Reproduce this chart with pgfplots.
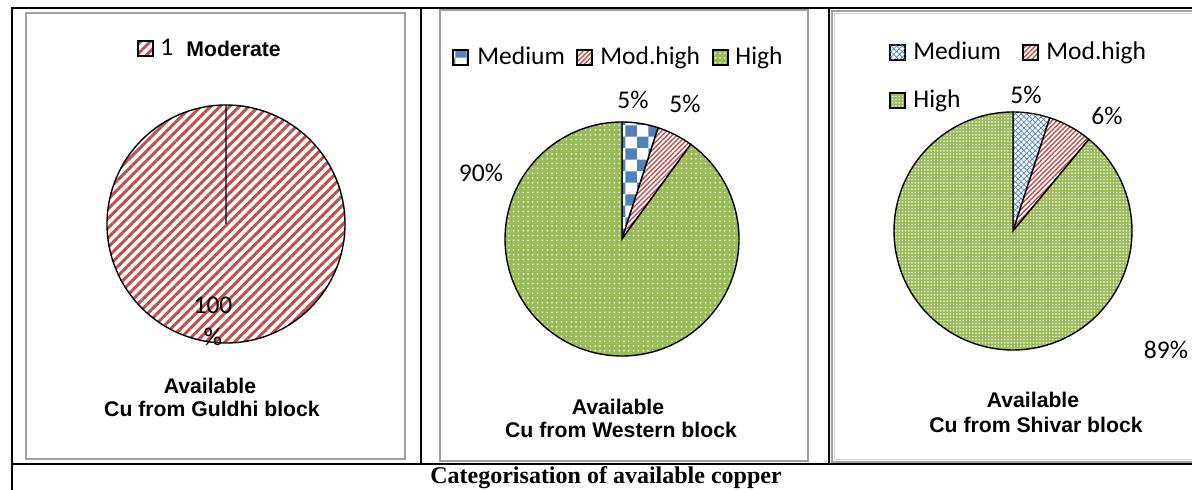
\documentclass[border=0pt]{standalone}
\usepackage{pgfplots}
\pgfplotsset{compat=1.18}
\usepackage{pgfplotstable}
\usepackage{fontspec}
\usetikzlibrary{patterns,patterns.meta}
\setmainfont{Liberation Sans}
\newfontfamily\calibri{Carlito}
\newfontfamily\timesfont{Liberation Serif}

\definecolor{cuRed}{HTML}{C0504D}
\definecolor{cuBlue}{HTML}{4F81BD}
\definecolor{cuGreen}{HTML}{9BBB59}
\definecolor{frameGray}{HTML}{A0A0A0}

% share of each copper category per block (percent)
\pgfplotstableread{
category share
Moderate 100
}\guldhi
\pgfplotstableread{
category share
Medium 5
Mod.high 5
High 90
}\western
\pgfplotstableread{
category share
Medium 5
Mod.high 6
High 89
}\shivar

\tikzset{
  slice/.style={draw=black, line width=0.7pt},
  moderate/.style={preaction={fill=white}, pattern={Lines[angle=45,distance=3.4pt,line width=1.5pt]}, pattern color=cuRed},
  modhigh/.style={preaction={fill=white}, pattern={Lines[angle=45,distance=1.7pt,line width=0.7pt]}, pattern color=cuRed},
  mediumW/.style={preaction={fill=white}, pattern=checkerboard, pattern color=cuBlue},
  highW/.style={preaction={fill=cuGreen}, pattern={Dots[distance=2.4pt,radius=0.42pt]}, pattern color=white},
  mediumS/.style={preaction={fill=white}, pattern={Lines[angle=45,distance=2pt,line width=0.35pt]}, pattern color=cuBlue,
    postaction={pattern={Lines[angle=-45,distance=2pt,line width=0.35pt]}, pattern color=cuBlue}},
  highS/.style={preaction={fill=cuGreen}, pattern={Dots[distance=1.6pt,radius=0.42pt]}, pattern color=white},
  calib/.style={font=\calibri\fontsize{12.75}{15}\selectfont, inner sep=0pt},
  ttl/.style={font=\bfseries\fontsize{10.6}{12}\selectfont, inner sep=0pt, anchor=base},
  frame/.style={draw=frameGray, line width=0.75pt},
  rule/.style={draw=black, line width=1pt},
}

% one pie wedge: style, start share, share, radius (shares in percent, clockwise from 12 o'clock)
\newcommand\pieslice[4]{%
  \pgfmathsetmacro\sa{90-3.6*(#2)}%
  \pgfmathsetmacro\ea{90-3.6*((#2)+(#3))}%
  \edef\tmp{\noexpand\path[slice,\unexpanded{#1}] (axis cs:0,0) -- (axis cs:{cos(\sa)},{sin(\sa)})
    arc[start angle=\sa, end angle=\ea, radius=#4] -- cycle;}%
  \tmp}

% legend key box
\newcommand\keybox[2]{\path[draw=black, line width=0.6pt, #1] (#2) rectangle ++(15,15);}

\begin{document}
\begin{tikzpicture}[x=0.5pt, y=-0.5pt]
\pgfplotstablegetelem{0}{share}\of\guldhi \edef\gA{\pgfplotsretval}
\pgfplotstablegetelem{0}{share}\of\western \edef\wA{\pgfplotsretval}
\pgfplotstablegetelem{1}{share}\of\western \edef\wB{\pgfplotsretval}
\pgfplotstablegetelem{2}{share}\of\western \edef\wC{\pgfplotsretval}
\pgfplotstablegetelem{0}{share}\of\shivar \edef\sA{\pgfplotsretval}
\pgfplotstablegetelem{1}{share}\of\shivar \edef\sB{\pgfplotsretval}
\pgfplotstablegetelem{2}{share}\of\shivar \edef\sC{\pgfplotsretval}

\useasboundingbox (0,0) rectangle (1192,490);

% table rules
\draw[rule] (11,8) -- (1192,8);
\draw[rule] (11,464) -- (1192,464);
\draw[rule] (12,8) -- (12,490);
\draw[rule] (421,8) -- (421,464);
\draw[rule] (829,8) -- (829,464);

% chart frames
\draw[frame] (26,13) rectangle (405,459);
\draw[frame] (440,10) rectangle (808,461);
\draw[frame] (832,11) rectangle (1196,462);
\draw[draw=frameGray!50, line width=0.5pt] (834.5,13.5) -- (834.5,459.5) -- (1196,459.5);
\draw[draw=frameGray!50, line width=0.5pt] (834.5,13.5) -- (1196,13.5);

\coordinate (c1) at (226,224);
\coordinate (c2) at (622,239);
\coordinate (c3) at (1013,231);

% Guldhi block
\begin{axis}[at={(c1)}, anchor=center, x=59.5pt, y=59.5pt,
  xmin=-1.1, xmax=1.1, ymin=-1.1, ymax=1.1, hide axis, clip=false]
  \pieslice{moderate}{0}{\gA}{59.5pt}
\end{axis}

% Western block
\begin{axis}[at={(c2)}, anchor=center, x=58.5pt, y=58.5pt,
  xmin=-1.1, xmax=1.1, ymin=-1.1, ymax=1.1, hide axis, clip=false]
  \pieslice{mediumW}{0}{\wA}{58.5pt}
  \pieslice{modhigh}{\wA}{\wB}{58.5pt}
  \pieslice{highW}{\wA+\wB}{\wC}{58.5pt}
\end{axis}

% Shivar block
\begin{axis}[at={(c3)}, anchor=center, x=59.5pt, y=59.5pt,
  xmin=-1.1, xmax=1.1, ymin=-1.1, ymax=1.1, hide axis, clip=false]
  \pieslice{mediumS}{0}{\sA}{59.5pt}
  \pieslice{modhigh}{\sA}{\sB}{59.5pt}
  \pieslice{highS}{\sA+\sB}{\sC}{59.5pt}
\end{axis}

% --- Guldhi labels and legend
\keybox{moderate}{138,41}
\node[calib, anchor=base west] at (160,56) {1};
\node[font=\bfseries\fontsize{10.6}{12}\selectfont, inner sep=0pt, anchor=base west] at (186,57) {Moderate};
\node[calib, anchor=base] at (213,314) {\gA};
\node[calib, anchor=base] at (213,346) {\%};
\node[ttl] at (210,394) {Available};
\node[ttl] at (212,417) {Cu from Guldhi block};

% --- Western labels and legend
\keybox{mediumW}{453,50}
\node[calib, anchor=base west] at (477,65) {Medium};
\keybox{modhigh}{577,50}
\node[calib, anchor=base west] at (600,65) {Mod.high};
\keybox{highW}{713,50}
\node[calib, anchor=base west] at (735,65) {High};
\node[calib, anchor=base] at (633,109) {\wA\%};
\node[calib, anchor=base] at (685,113) {\wB\%};
\node[calib, anchor=base] at (481,182) {\wC\%};
\node[ttl] at (618,415) {Available};
\node[ttl] at (621,438) {Cu from Western block};

% --- Shivar labels and legend
\keybox{mediumS}{890,45}
\node[calib, anchor=base west] at (913,60) {Medium};
\keybox{modhigh}{1023,45}
\node[calib, anchor=base west] at (1046,60) {Mod.high};
\keybox{highS}{890,93}
\node[calib, anchor=base west] at (913,108) {High};
\node[calib, anchor=base] at (1026,104) {\sA\%};
\node[calib, anchor=base] at (1107,125) {\sB\%};
\node[calib, anchor=base] at (1166,359) {\sC\%};
\node[ttl] at (1033,408) {Available};
\node[ttl] at (1036,433) {Cu from Shivar block};

% caption row
\node[font=\timesfont\bfseries\fontsize{12}{14}\selectfont, inner sep=0pt, anchor=base] at (606,484) {Categorisation of available copper};
\end{tikzpicture}
\end{document}
